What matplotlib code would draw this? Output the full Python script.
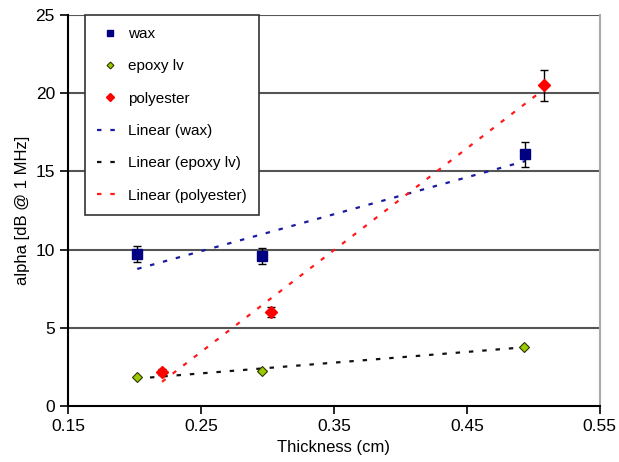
import numpy as np
import matplotlib
matplotlib.use("Agg")
import matplotlib.pyplot as plt

# data
wax_x = [0.202, 0.296, 0.494]
wax_y = [9.7, 9.6, 16.1]
wax_err = [0.5, 0.5, 0.8]

epoxy_x = [0.2016, 0.296, 0.493]
epoxy_y = [1.85, 2.27, 3.8]

poly_x = [0.2207, 0.303, 0.508]
poly_y = [2.2, 6.0, 20.5]
poly_err = [0.2, 0.3, 1.0]

xticks = [0.15, 0.25, 0.35, 0.45, 0.55]
yticks = [0, 5, 10, 15, 20, 25]

plt.rcParams['font.family'] = ['Liberation Sans', 'DejaVu Sans']

fig = plt.figure(figsize=(6.19, 4.62), dpi=100)
ax = fig.add_axes([0.11, 0.121, 0.859, 0.847])

for y in yticks[1:]:
    ax.axhline(y, color='#555555', lw=1.5, zorder=1)

def trend(x, y):
    k, b = np.polyfit(x, y, 1)
    xx = np.array([min(x), max(x)])
    return xx, k * xx + b

# trend lines
tx, ty = trend(wax_x, wax_y)
l_wax, = ax.plot(tx, ty, color='#1a1aa0', lw=1.6, dashes=(2, 4), zorder=2)
tx, ty = trend(epoxy_x, epoxy_y)
l_ep, = ax.plot(tx, ty, color='#111111', lw=1.6, dashes=(2, 4), zorder=2)
tx, ty = trend(poly_x, poly_y)
l_po, = ax.plot(tx, ty, color='#ff1a1a', lw=1.6, dashes=(2, 4), zorder=2)

# points with error bars
ax.errorbar(wax_x, wax_y, yerr=wax_err, fmt='none', ecolor='black', elinewidth=1, capsize=3, zorder=3)
ax.errorbar(poly_x, poly_y, yerr=poly_err, fmt='none', ecolor='black', elinewidth=1, capsize=3, zorder=3)
p_wax, = ax.plot(wax_x, wax_y, 's', color='#000080', ms=7, ls='none', zorder=4)
p_ep, = ax.plot(epoxy_x, epoxy_y, 'D', color='#99cc00', mec='#333300', mew=0.8, ms=5, ls='none', zorder=4)
p_po, = ax.plot(poly_x, poly_y, 'D', color='#ff0000', ms=6.5, ls='none', zorder=4)

ax.set_xlim(0.15, 0.55)
ax.set_ylim(0, 25)
ax.set_xticks(xticks)
ax.set_xticklabels(['0.15', '0.25', '0.35', '0.45', '0.55'])
ax.set_yticks(yticks)
ax.tick_params(labelsize=12.5, direction='out', length=6, width=1.2)
ax.set_xlabel('Thickness (cm)', fontsize=12)
ax.set_ylabel('alpha [dB @ 1 MHz]', fontsize=12)

ax.spines['top'].set_visible(False)
ax.spines['right'].set_color('#aaaaaa')
ax.spines['right'].set_linewidth(1.5)
ax.spines['left'].set_linewidth(1.5)
ax.spines['bottom'].set_linewidth(1.5)

leg = ax.legend([p_wax, p_ep, p_po, l_wax, l_ep, l_po],
                ['wax', 'epoxy lv', 'polyester', 'Linear (wax)', 'Linear (epoxy lv)', 'Linear (polyester)'],
                loc='upper left', bbox_to_anchor=(0.032, 1.0), borderaxespad=0,
                fontsize=11, frameon=True, markerscale=0.7,
                fancybox=False, edgecolor='#333333', framealpha=1, labelspacing=1.2,
                handlelength=1.6, borderpad=0.8, handletextpad=0.4)
leg.get_frame().set_linewidth(1.2)

fig.savefig('out.png', dpi=100)
